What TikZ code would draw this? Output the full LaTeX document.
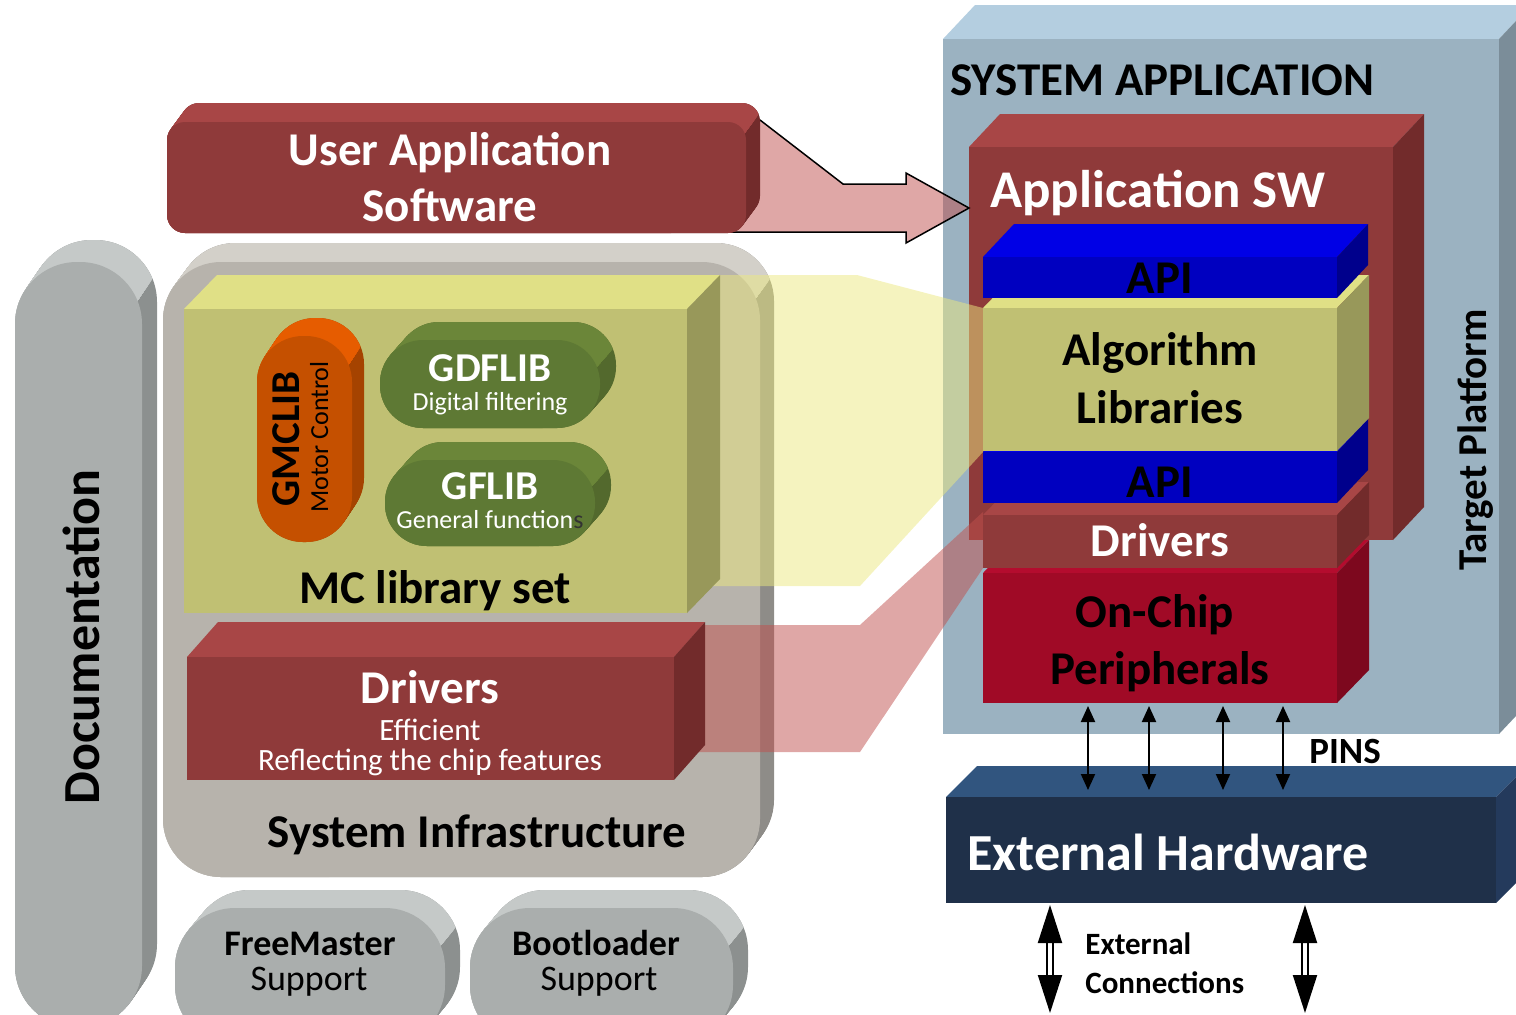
\documentclass[tikz,border=0pt]{standalone}
\usepackage{fontspec}
\setmainfont{Carlito}
\usetikzlibrary{arrows.meta,calc}
\definecolor{platF}{HTML}{9BB2C1}\definecolor{platT}{HTML}{B4CEE0}\definecolor{platS}{HTML}{7B8D99}
\definecolor{redF}{HTML}{8F3A3A}\definecolor{redT}{HTML}{A84646}\definecolor{redS}{HTML}{722B2B}
\definecolor{apiF}{HTML}{0000C0}\definecolor{apiT}{HTML}{0000E6}\definecolor{apiS}{HTML}{00008C}
\definecolor{ylwF}{HTML}{C0C073}\definecolor{ylwT}{HTML}{E0E086}\definecolor{ylwS}{HTML}{98985A}
\definecolor{perF}{HTML}{A00A26}\definecolor{perT}{HTML}{B40C2E}\definecolor{perS}{HTML}{7D081E}
\definecolor{hwF}{HTML}{1F3049}\definecolor{hwT}{HTML}{31557F}\definecolor{hwS}{HTML}{243A5C}
\definecolor{infF}{HTML}{B7B3AC}\definecolor{infT}{HTML}{D3D0C9}\definecolor{infS}{HTML}{8E8C88}
\definecolor{gryF}{HTML}{AAAEAD}\definecolor{gryT}{HTML}{C5C9C8}\definecolor{gryS}{HTML}{8C908F}
\definecolor{grnF}{HTML}{5E7934}\definecolor{grnT}{HTML}{6B8639}\definecolor{grnS}{HTML}{53692D}
\definecolor{orgF}{HTML}{C55000}\definecolor{orgT}{HTML}{E65C00}\definecolor{orgS}{HTML}{A54300}
\definecolor{projR}{HTML}{C0504D}\definecolor{projY}{HTML}{EBE880}
% 3D box: x1 y1 x2 y2 dx dy colour-prefix
\newcommand\boxthree[7]{%
 \fill[#7T] (#1,#2) -- ({#1+#5},{#2-#6}) -- ({#3+#5},{#2-#6}) -- (#3,#2) -- cycle;
 \fill[#7S] (#3,#2) -- ({#3+#5},{#2-#6}) -- ({#3+#5},{#4-#6}) -- (#3,#4) -- cycle;
 \fill[#7F] (#1,#2) rectangle (#3,#4);}
% 3D rounded slab: x1 y1 x2 y2 r dx dy colour-prefix
\newcommand\pillthree[8]{%
 \begin{scope}
 \pgfmathsetmacro\rr{#5*0.5}
 \foreach \k in {0,...,16}{\pgfmathsetmacro\tt{\k/16}
   \fill[#8S, rounded corners=\rr pt] ({#1+\tt*#6},{#2-\tt*#7}) rectangle ({#3+\tt*#6},{#4-\tt*#7});}
 \pgfmathsetmacro\px{#3-#5+0.927*#5}
 \pgfmathsetmacro\py{#2+#5-0.375*#5}
 \begin{scope}
 \clip ({\px-100*#6},{\py+100*#7}) -- ({\px+100*#6},{\py-100*#7}) -- ({\px+100*#6-5000},{\py-100*#7}) -- ({\px-100*#6-5000},{\py+100*#7}) -- cycle;
 \foreach \k in {0,...,16}{\pgfmathsetmacro\tt{\k/16}
   \fill[#8T, rounded corners=\rr pt] ({#1+\tt*#6},{#2-\tt*#7}) rectangle ({#3+\tt*#6},{#4-\tt*#7});}
 \end{scope}
 \fill[#8F, rounded corners=\rr pt] (#1,#2) rectangle (#3,#4);
 \end{scope}}
\tikzset{
 txt/.style={inner sep=0pt, anchor=base},
 fbig/.style={txt, font=\bfseries\fontsize{23.5}{28}\selectfont},
 fhuge/.style={txt, font=\bfseries\fontsize{26}{30}\selectfont},
 flib/.style={txt, font=\bfseries\fontsize{20.5}{24}\selectfont},
 fsmall/.style={txt, font=\fontsize{13}{15}\selectfont},
 fmid/.style={txt, font=\fontsize{15.5}{18}\selectfont},
 fmidb/.style={txt, font=\bfseries\fontsize{15.5}{18}\selectfont},
 fsupb/.style={txt, font=\bfseries\fontsize{18}{21}\selectfont},
 fsup/.style={txt, font=\fontsize{18}{21}\selectfont},
 proj/.style={fill opacity=0.5},
 pin/.style={line width=1pt, {Triangle[width=7pt,length=8pt]}-{Triangle[width=7pt,length=8pt]}},
 extarr/.style={double, line width=1pt, double distance=2.2pt, {Triangle[width=12pt,length=19pt]}-{Triangle[width=12pt,length=19pt]}},
}
\begin{document}
\begin{tikzpicture}[x=0.5pt,y=-0.5pt]
\useasboundingbox (0,0) rectangle (1516,1014);
\clip (0,0) rectangle (1516,1014);
% target platform
\boxthree{943}{39}{1499}{734}{32}{34}{plat}
% application SW
\boxthree{969}{147}{1393}{540}{31}{33}{red}
% block arrow
\draw[fill=projR, proj, draw=black, line width=0.75pt, line join=miter]
  (700,120) -- (760,120) -- (843,184) -- (906,184) -- (906,173) -- (969,208) -- (906,243) -- (906,232) -- (700,232) -- cycle;
% user application box
\pillthree{167}{122}{746}{233}{18}{14}{19}{red}
% documentation
\pillthree{15}{262}{142}{1028}{62}{15}{22}{gry}
% system infrastructure
\pillthree{163}{262}{760}{877}{58}{14}{19}{inf}
% projections
\fill[projY, proj] (650,275) -- (857,275) -- (983,308) -- (983,452) -- (860,586) -- (650,586) -- cycle;
\fill[projR, proj] (650,625) -- (860,625) -- (983,512) -- (983,568) -- (860,752) -- (650,752) -- cycle;
% MC library set
\boxthree{184}{309}{687}{613}{33}{34}{ylw}
% drivers left
\boxthree{187}{657}{674}{780}{31}{35}{red}
% libraries
\pillthree{257}{336}{352}{542}{46}{12}{18}{org}
\pillthree{380}{340}{600}{428}{43}{16}{18}{grn}
\pillthree{385}{460}{595}{546}{42}{16}{18}{grn}
% support pills
\pillthree{175}{908}{445}{1045}{60}{15}{18}{gry}
\pillthree{470}{908}{733}{1045}{60}{15}{18}{gry}
% right stack
\boxthree{983}{573}{1337}{703}{32}{33}{per}
\boxthree{983}{515}{1337}{568}{32}{33}{red}
\boxthree{983}{452}{1337}{503}{31}{33}{api}
\boxthree{983}{308}{1337}{451}{32}{33}{ylw}
\boxthree{983}{257}{1337}{298}{31}{33}{api}
% external hardware
\boxthree{946}{797}{1496}{903}{31}{31}{hw}
% pins
\foreach \i/\x in {1/1088,2/1149,3/1223,4/1283}{
  \coordinate (p\i a) at (\x,706); \coordinate (p\i b) at (\x,790);
  \draw[pin] (p\i a) -- (p\i b);}
\coordinate (e1a) at (1050,905); \coordinate (e1b) at (1050,1013);
\coordinate (e2a) at (1305,905); \coordinate (e2b) at (1305,1013);
\draw[extarr] (e1a) -- (e1b);
\draw[extarr] (e2a) -- (e2b);
% texts
\node[fbig, white] (uas1) at (450,165) {User Application};
\node[fbig, white] (uas2) at (450,221) {Software};
\node[fbig] (sysinf) at (477,847) {System Infrastructure};
\node[fbig] (mcset) at (435,603) {MC library set};
\node[fbig, white] (drvL) at (430,703) {Drivers};
\node[fmid, white] (eff) at (430,740) {Efficient};
\node[fmid, white] (refl) at (430,770) {Reflecting the chip features};
\node[flib, rotate=90] (gmc) at (299,439) {GMCLIB};
\node[fsmall, rotate=90] (gmcs) at (328,437) {Motor Control};
\node[flib, white] (gdf) at (490,381) {GDFLIB};
\node[fsmall, white] (gdfs) at (490,410) {Digital filtering};
\node[flib, white] (gf) at (490,499) {GFLIB};
\node[fsmall, white] (gfs) at (490,528) {General function\textcolor{black!80}{s}};
\node[fhuge, rotate=90] (doc) at (99,637) {Documentation};
\node[fsupb] (fm1) at (310,955) {FreeMaster};
\node[fsup] (fm2) at (309,990) {Support};
\node[fsupb] (bl1) at (596,955) {Bootloader};
\node[fsup] (bl2) at (599,990) {Support};
\node[fbig, anchor=base west] (sa) at (950,95) {SYSTEM APPLICATION};
\node[txt, anchor=base west, white, font=\bfseries\fontsize{26.5}{30}\selectfont] (asw) at (990,207) {Application SW};
\node[fbig] (api1) at (1160,293) {API};
\node[fbig] (alg1) at (1160,365) {Algorithm};
\node[fbig] (alg2) at (1160,423) {Libraries};
\node[fbig] (api2) at (1160,497) {API};
\node[fbig, white] (drvR) at (1160,556) {Drivers};
\node[fbig] (oc1) at (1155,627) {On-Chip};
\node[fbig] (oc2) at (1160,684) {Peripherals};
\node[flib, rotate=90] (tp) at (1486,440) {Target Platform};
\node[txt, anchor=base west, font=\bfseries\fontsize{18.5}{22}\selectfont] (pins) at (1309,763) {PINS};
\node[fhuge, anchor=base west, white] (ehw) at (967,870) {External Hardware};
\node[fmidb, anchor=base west] (ec1) at (1085,954) {External};
\node[fmidb, anchor=base west] (ec2) at (1085,993) {Connections};
\end{tikzpicture}
\end{document}
